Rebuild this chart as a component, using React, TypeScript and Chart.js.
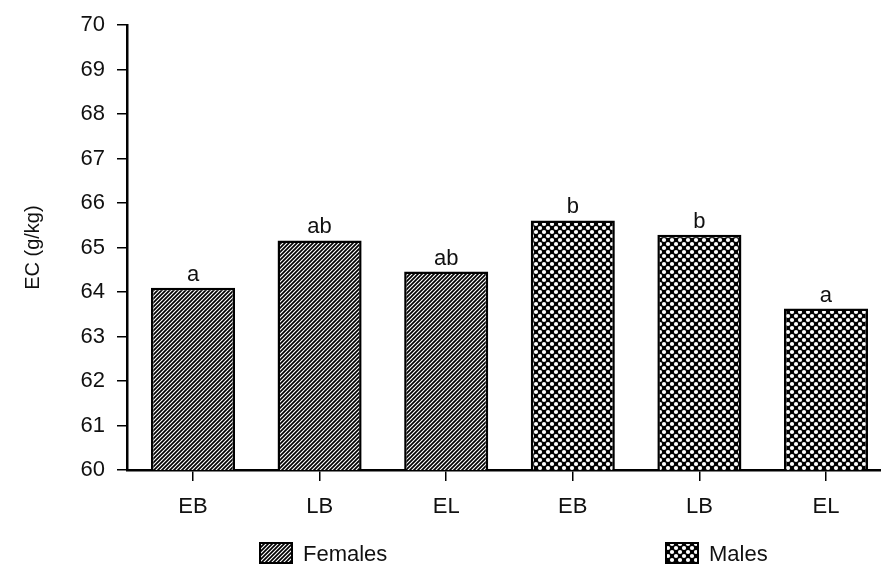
import React, { useEffect, useRef } from 'react';
import { Chart, registerables } from 'chart.js';

Chart.register(...registerables);

const categories = ['EB', 'LB', 'EL', 'EB', 'LB', 'EL'];
const seriesNames = ['Females', 'Males'];
const femaleValues = [64.1, 65.16, 64.46];
const maleValues = [65.61, 65.29, 63.63];
const femaleLetters = ['a', 'ab', 'ab'];
const maleLetters = ['b', 'b', 'a'];
const yMin = 60;
const yMax = 70;
const yTitle = 'EC (g/kg)';

const FONT = '"Liberation Sans", Arial, Helvetica, sans-serif';

function makeStripePattern(): CanvasPattern | string {
  const c = document.createElement('canvas');
  c.width = 4;
  c.height = 4;
  const g = c.getContext('2d');
  if (!g) return '#555';
  g.fillStyle = '#fff';
  g.fillRect(0, 0, 4, 4);
  g.strokeStyle = '#000';
  g.lineWidth = 1.7;
  g.beginPath();
  g.moveTo(0, 4); g.lineTo(4, 0);
  g.moveTo(-1, 1); g.lineTo(1, -1);
  g.moveTo(3, 5); g.lineTo(5, 3);
  g.stroke();
  const p = g.createPattern(c, 'repeat');
  return p || '#555';
}

function makeCrossPattern(): CanvasPattern | string {
  const c = document.createElement('canvas');
  c.width = 8;
  c.height = 8;
  const g = c.getContext('2d');
  if (!g) return '#333';
  g.fillStyle = '#000';
  g.fillRect(0, 0, 8, 8);
  g.fillStyle = '#fff';
  const pts = [[0, 0], [8, 0], [0, 8], [8, 8], [4, 4]];
  for (const [x, y] of pts) {
    g.beginPath();
    g.arc(x, y, 2.1, 0, Math.PI * 2);
    g.fill();
  }
  const p = g.createPattern(c, 'repeat');
  return p || '#333';
}

export default function App() {
  const ref = useRef<HTMLCanvasElement | null>(null);

  useEffect(() => {
    const canvas = ref.current;
    if (!canvas) return;
    const stripe = makeStripePattern();
    const cross = makeCrossPattern();
    const letters = [femaleLetters, maleLetters];

    const letterPlugin = {
      id: 'letters',
      afterDatasetsDraw(chart: any) {
        const ctx = chart.ctx;
        ctx.save();
        ctx.fillStyle = '#111';
        ctx.font = `22px ${FONT}`;
        ctx.textAlign = 'center';
        ctx.textBaseline = 'alphabetic';
        chart.data.datasets.forEach((_: any, di: number) => {
          const meta = chart.getDatasetMeta(di);
          meta.data.forEach((el: any, i: number) => {
            ctx.fillText(letters[di][i], el.x, el.y - 7);
          });
        });
        ctx.restore();
      },
    };

    const legendPlugin = {
      id: 'customLegend',
      afterDraw(chart: any) {
        const ctx = chart.ctx;
        const boxes = [
          { x: 259, fill: stripe },
          { x: 665, fill: cross },
        ];
        ctx.save();
        ctx.font = `22px ${FONT}`;
        ctx.textBaseline = 'middle';
        ctx.textAlign = 'left';
        seriesNames.forEach((name, i) => {
          const b = boxes[i];
          ctx.fillStyle = b.fill;
          ctx.fillRect(b.x, 542, 34, 22);
          ctx.strokeStyle = '#000';
          ctx.lineWidth = 2;
          ctx.strokeRect(b.x + 1, 543, 32, 20);
          ctx.fillStyle = '#111';
          ctx.fillText(name, b.x + 44, 555);
        });
        ctx.restore();
      },
    };

    const chart = new Chart(canvas, {
      type: 'bar',
      data: {
        datasets: [
          {
            label: seriesNames[0],
            data: femaleValues.map((v, i) => ({ x: i, y: v })),
            backgroundColor: stripe as any,
            borderColor: '#000',
            borderWidth: 2.5,
            borderSkipped: false,
          },
          {
            label: seriesNames[1],
            data: maleValues.map((v, i) => ({ x: i + femaleValues.length, y: v })),
            backgroundColor: cross as any,
            borderColor: '#000',
            borderWidth: 2.5,
            borderSkipped: false,
          },
        ],
      },
      options: {
        animation: false,
        responsive: true,
        maintainAspectRatio: false,
        layout: { padding: { top: 24, right: 0, bottom: 0, left: 0 } },
        datasets: {
          bar: {
            grouped: false,
            categoryPercentage: 1,
            barPercentage: 0.664,
          },
        },
        plugins: {
          legend: { display: false },
          tooltip: { enabled: false },
          title: { display: false },
        },
        scales: {
          x: {
            type: 'linear',
            min: -0.5213,
            max: 5.4345,
            offset: false,
            grid: {
              offset: false,
              drawOnChartArea: false,
              drawTicks: true,
              tickLength: 11,
              color: '#000',
              lineWidth: 1.5,
            },
            border: { display: true, color: '#000', width: 2.5 },
            afterBuildTicks: (scale: any) => {
              scale.ticks = categories.map((_, i) => ({ value: i }));
            },
            afterFit: (scale: any) => {
              scale.height = 97;
            },
            ticks: {
              autoSkip: false,
              maxRotation: 0,
              minRotation: 0,
              padding: 13,
              color: '#111',
              font: { family: FONT, size: 22 },
              callback: (value: any) => categories[value as number] ?? '',
            },
          },
          y: {
            type: 'linear',
            min: yMin,
            max: yMax,
            grid: {
              drawOnChartArea: false,
              drawTicks: true,
              tickLength: 10,
              color: '#000',
              lineWidth: 1.5,
            },
            border: { display: true, color: '#000', width: 2.5 },
            afterFit: (scale: any) => {
              scale.width = 127;
            },
            ticks: {
              stepSize: 1,
              padding: 12,
              color: '#111',
              font: { family: FONT, size: 22 },
            },
            title: {
              display: true,
              text: yTitle,
              color: '#111',
              font: { family: FONT, size: 20 },
              padding: { top: 21, bottom: 0 },
            },
          },
        },
      },
      plugins: [letterPlugin, legendPlugin],
    });

    return () => chart.destroy();
  }, []);

  return (
    <div style={{ position: 'fixed', left: 0, top: 0, width: 881, height: 567, background: '#fff' }}>
      <canvas ref={ref} />
    </div>
  );
}
